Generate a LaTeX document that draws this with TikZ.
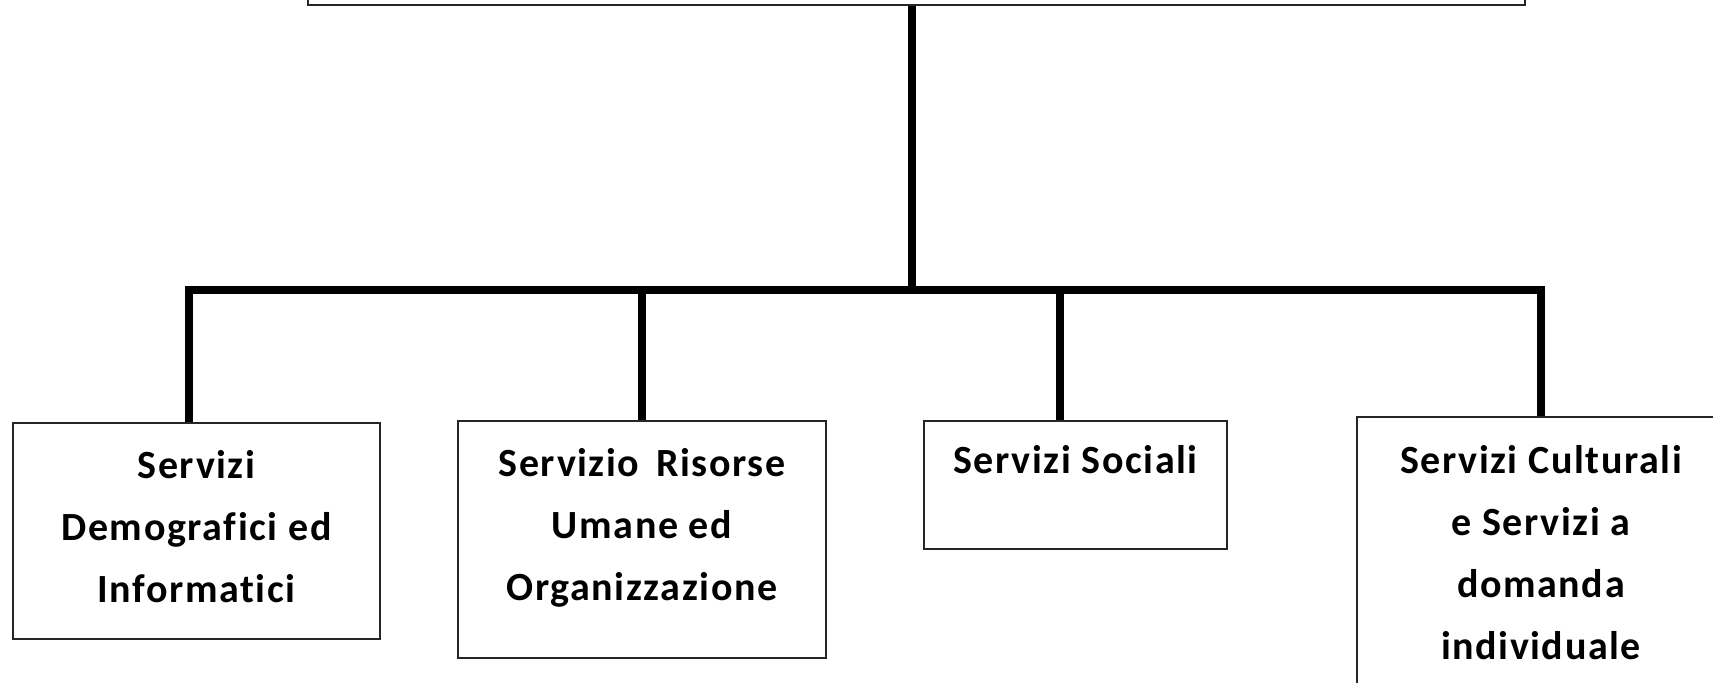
\documentclass[tikz,border=0pt]{standalone}
\usepackage{fontspec}
\setmainfont[LetterSpace=4,Ligatures=NoCommon]{Carlito}
\begin{document}
\begin{tikzpicture}[x=0.5pt,y=-0.5pt,
  box/.style={draw=black!85, line width=1pt, inner sep=0pt, fill=white},
  lbl/.style={font=\bfseries\fontsize{20pt}{31pt}\selectfont, align=center, anchor=north, inner sep=0pt},
  conn/.style={line width=3.6pt, black}]
\useasboundingbox (0,0) rectangle (1713,683);
% boxes
\node[box, minimum width=608.5pt, minimum height=32.5pt] (top) at (916.5,-27.5) {};
\node[box, minimum width=183.5pt, minimum height=108pt] (b1) at (196.5,531) {};
\node[box, minimum width=184pt, minimum height=118.5pt] (b2) at (642,539.5) {};
\node[box, minimum width=151.5pt, minimum height=64pt] (b3) at (1075.5,485) {};
\node[box, minimum width=184pt, minimum height=151.5pt] (b4) at (1541,568.5) {};
% labels
\node[lbl] (t1) at ([yshift=-14.2pt]b1.north) {Servizi\\Demografici ed\\Informatici};
\node[lbl] (t2) at ([yshift=-14.2pt]b2.north) {Servizio\hspace{3pt} Risorse\\Umane ed\\Organizzazione};
\node[lbl] (t3) at ([yshift=-12.7pt]b3.north) {Servizi Sociali};
\node[lbl] (t4) at ([yshift=-14.3pt]b4.north) {Servizi Culturali\\e Servizi a\\domanda\\individuale};
% connectors
\coordinate (j) at (912,290);
\draw[conn] (top.south -| j) -- (j);
\draw[conn] (j) -| ([xshift=-3.75pt]b1.north);
\draw[conn] (j) -| (b2.north);
\draw[conn] (j) -| ([xshift=-7.75pt]b3.north);
\draw[conn] (j) -| (b4.north);
\end{tikzpicture}
\end{document}
